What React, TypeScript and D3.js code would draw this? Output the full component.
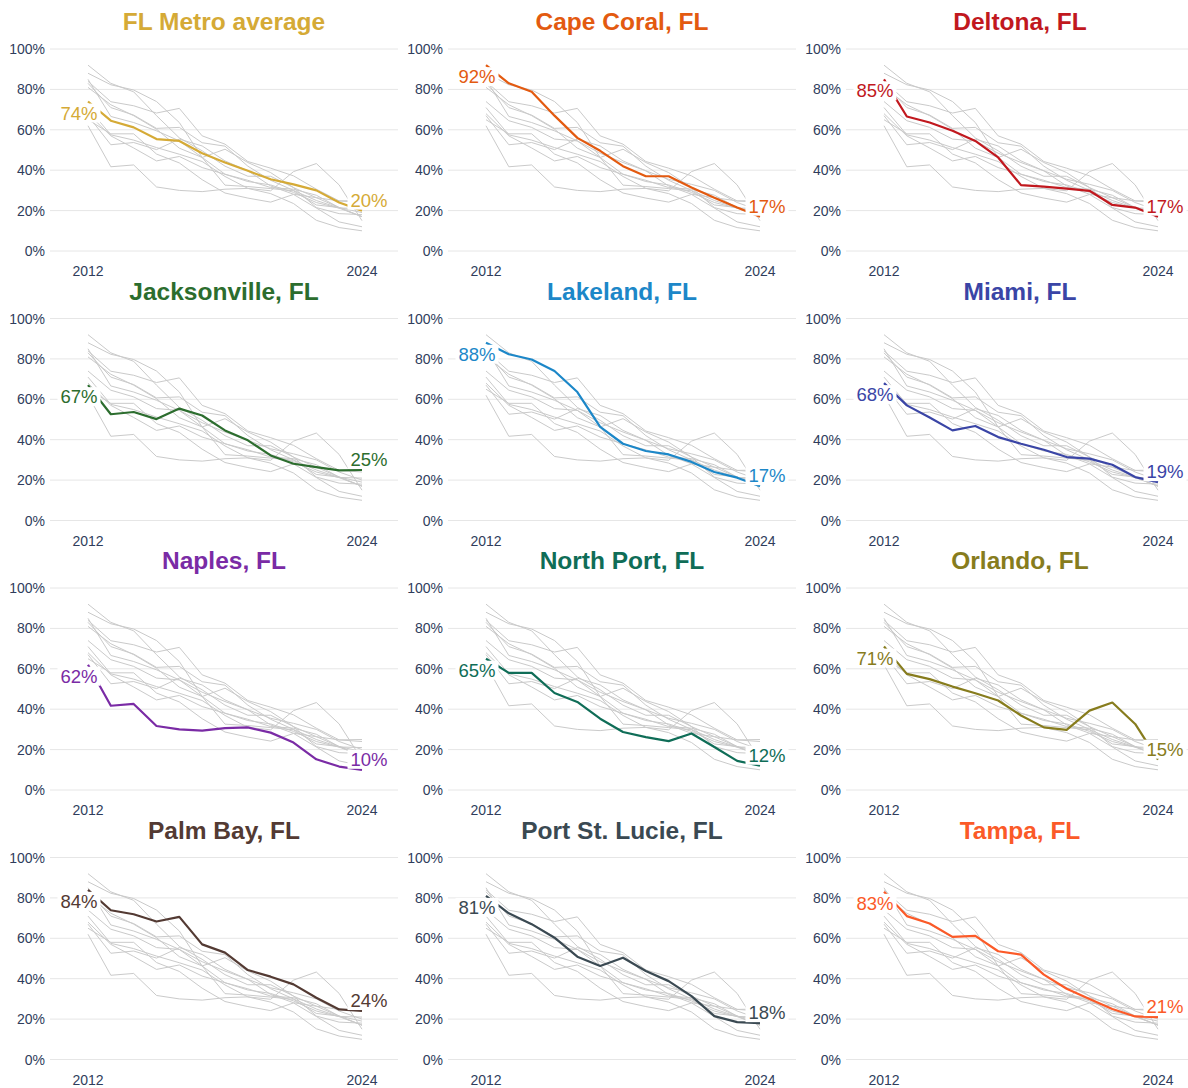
import React from 'react';
import * as d3 from 'd3';

// years on the x axis
const years = [2012, 2013, 2014, 2015, 2016, 2017, 2018, 2019, 2020, 2021, 2022, 2023, 2024];
const yTicks = [0, 20, 40, 60, 80, 100];
const xTickYears = [2012, 2024];

const metroNames = [
  'FL Metro average', 'Cape Coral, FL', 'Deltona, FL',
  'Jacksonville, FL', 'Lakeland, FL', 'Miami, FL',
  'Naples, FL', 'North Port, FL', 'Orlando, FL',
  'Palm Bay, FL', 'Port St. Lucie, FL', 'Tampa, FL',
];
const metroColors = [
  '#d5aa36', '#e35a10', '#c1181e',
  '#2c6d2e', '#1c87c8', '#3a45a6',
  '#7a2ba5', '#0f6d57', '#877c1d',
  '#533a33', '#3a4952', '#fb5a28',
];

// share (%) per year
const flMetroAverage = [74, 64.5, 61.2, 55.4, 54.5, 48.4, 43.8, 39.7, 35.5, 33, 30, 24, 20];
const capeCoral = [92, 83, 78.8, 67, 56, 49.6, 42, 37, 37, 31.4, 26.4, 21.5, 17];
const deltona = [85, 66.6, 63.6, 59.5, 54.5, 46.3, 32.6, 31.9, 30.9, 29.8, 22.8, 21.5, 17];
const jacksonville = [67, 52.6, 53.7, 50.2, 55.4, 52, 44.6, 39.7, 32.2, 28.1, 26.4, 24.8, 25];
const lakeland = [88, 82.3, 79.7, 74, 63.6, 46.3, 38, 34.4, 32.7, 29, 24, 21.2, 17];
const miami = [68, 57, 51, 44.6, 46.8, 41.3, 38, 35, 31.4, 30.6, 27.6, 21.5, 19];
const naples = [62, 41.7, 42.6, 31.7, 30, 29.4, 30.6, 31, 28.4, 23.5, 15.2, 11.6, 10];
const northPort = [65, 58, 58, 48, 43.6, 35.3, 28.7, 26.2, 24.2, 28, 21.3, 14.4, 12];
const orlando = [71, 57.5, 54.9, 51.2, 47.9, 44.3, 36.9, 31, 29.8, 39.3, 43.3, 32.7, 15];
const palmBay = [84, 73.9, 71.9, 68.3, 70.6, 57, 52.9, 44.3, 41, 37.2, 30.6, 24.8, 24];
const portStLucie = [81, 72.4, 67, 60.3, 50.9, 46.3, 50.4, 43.8, 38.8, 31.4, 21.5, 18.5, 18];
const tampa = [83, 71, 67.3, 60.7, 61.2, 53.6, 51.9, 42, 35, 30, 25, 21.3, 21];

const seriesValues = [
  flMetroAverage, capeCoral, deltona,
  jacksonville, lakeland, miami,
  naples, northPort, orlando,
  palmBay, portStLucie, tampa,
];

const series = metroNames.map((name, i) => ({
  name,
  color: metroColors[i],
  points: years.map((year, j) => ({ year, value: seriesValues[i][j] })),
}));

const W = 1188;
const H = 1088;
const colStep = 398;
const rowStep = 269.5;
const font = '"Liberation Sans", Arial, Helvetica, sans-serif';
const axisColor = '#2f3d5c';
const labelSize = 18.5;

function Panel({ index }: { index: number }) {
  const s = series[index];
  const ox = (index % 3) * colStep;
  const oy = Math.floor(index / 3) * rowStep;

  const x = d3.scaleLinear().domain([2012, 2024]).range([88 + ox, 362 + ox]);
  const y = d3.scaleLinear().domain([0, 100]).range([251 + oy, 49 + oy]);
  const line = d3.line<{ year: number; value: number }>()
    .x(d => x(d.year))
    .y(d => y(d.value));

  const first = s.points[0];
  const last = s.points[s.points.length - 1];
  // label boxes sit just off the end points, as in the original (ggrepel-like)
  const labels = [
    { cx: x(first.year) - 9, cy: y(first.value) + 11.5, text: `${Math.round(first.value)}%` },
    { cx: x(last.year) + 7, cy: y(last.value) - 10.5, text: `${Math.round(last.value)}%` },
  ];
  const boxW = labelSize * 2.0 + 6;

  return (
    <g>
      {yTicks.map(t => (
        <g key={t}>
          <line x1={50 + ox} x2={398 + ox} y1={y(t)} y2={y(t)} stroke="#e6e6e6" strokeWidth={1} />
          <text x={45 + ox} y={y(t)} textAnchor="end" dominantBaseline="central"
            fontSize={14} fill={axisColor}>{`${t}%`}</text>
        </g>
      ))}
      {xTickYears.map(yr => (
        <text key={yr} x={x(yr)} y={y(0) + 25} textAnchor="middle" fontSize={14} fill={axisColor}>{yr}</text>
      ))}
      <text x={224 + ox} y={oy + 30} textAnchor="middle" fontSize={24.5} fontWeight="bold" fill={s.color}>
        {s.name}
      </text>
      {series.filter((_, i) => i !== index).map(o => (
        <path key={o.name} d={line(o.points) || ''} fill="none" stroke="#cacaca" strokeWidth={1} />
      ))}
      <path d={line(s.points) || ''} fill="none" stroke={s.color} strokeWidth={2.2} strokeLinejoin="round" />
      {labels.map((l, i) => (
        <g key={i}>
          <rect x={l.cx - boxW / 2} y={l.cy - 9.5} width={boxW} height={19} fill="#fff" />
          <text x={l.cx} y={l.cy} textAnchor="middle" dominantBaseline="central"
            fontSize={labelSize} fill={s.color}>{l.text}</text>
        </g>
      ))}
    </g>
  );
}

export default function App() {
  return (
    <svg width={W} height={H} viewBox={`0 0 ${W} ${H}`}
      style={{ position: 'absolute', left: 0, top: 0, background: '#fff', fontFamily: font }}>
      <rect width={W} height={H} fill="#fff" />
      {series.map((_, i) => <Panel key={i} index={i} />)}
    </svg>
  );
}
